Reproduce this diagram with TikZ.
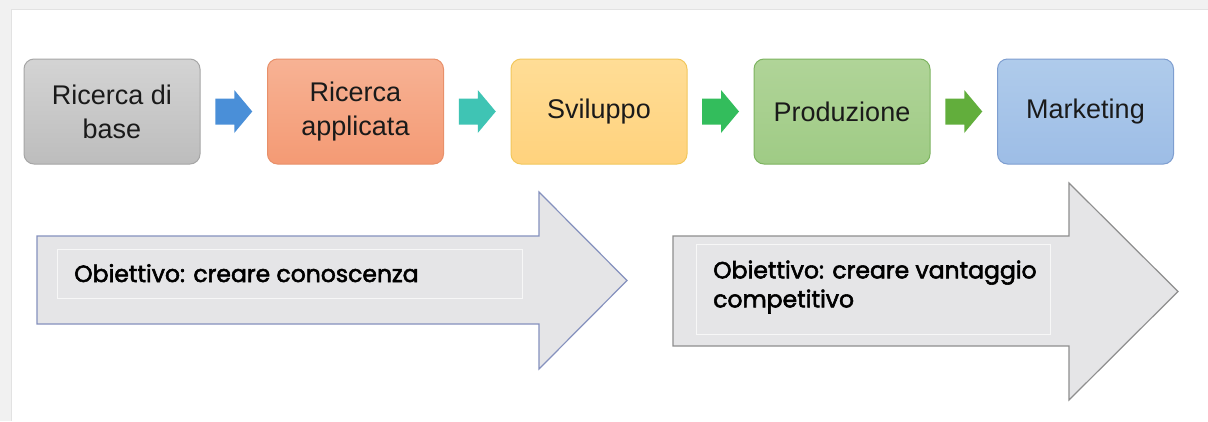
\documentclass[tikz,border=0pt]{standalone}
\usepackage{fontspec}
\setmainfont{Liberation Sans}
\newfontfamily\objfont{Poppins}[FakeBold=2.3]
\usetikzlibrary{calc}
\definecolor{framegray}{HTML}{F1F1F1}
\definecolor{frameline}{HTML}{E2E2E2}
\definecolor{txt}{HTML}{1A1A1A}
\definecolor{bigfill}{HTML}{E5E5E7}
\definecolor{bigborderL}{HTML}{8591BE}
\definecolor{bigborderR}{HTML}{8E8E8E}
\definecolor{innerline}{HTML}{F7F7F7}
\definecolor{arrblue}{RGB}{74,143,216}
\definecolor{arrteal}{RGB}{63,196,180}
\definecolor{arrgreen}{RGB}{51,189,92}
\definecolor{arrolive}{RGB}{98,174,60}
\definecolor{orD}{RGB}{232,144,106}\definecolor{orT}{RGB}{247,178,148}\definecolor{orB}{RGB}{244,154,116}
\definecolor{yeD}{RGB}{242,199,92}\definecolor{yeT}{RGB}{255,221,150}\definecolor{yeB}{RGB}{255,210,125}
\definecolor{grD}{RGB}{125,180,96}\definecolor{grT}{RGB}{176,212,152}\definecolor{grB}{RGB}{159,203,133}
\definecolor{blD}{RGB}{126,158,208}\definecolor{blT}{RGB}{175,203,235}\definecolor{blB}{RGB}{157,189,230}
\tikzset{
  stage/.style={rounded corners=10pt, line width=1pt, minimum width=176pt, minimum height=105pt,
    inner sep=0pt, align=center, text=txt, font=\fontsize{27}{34}\selectfont},
  bigarrow/.style={fill=bigfill, line width=1.2pt, line join=miter},
  innerbox/.style={draw=innerline, line width=1pt, fill=bigfill, inner sep=0pt},
  objtext/.style={font=\objfont\fontsize{23.5}{29}\selectfont, text=black, inner sep=0pt, align=left}
}
% block arrow centred on a named coordinate: shaft 19 long, 26 high; head 18 long, 43 high
\newcommand\blockarrow[2]{%
  \fill[#2] (#1) ++(-18.5,-13) -- ++(19,0) -- ++(0,-8.5) -- ++(18,21.5) -- ++(-18,21.5) -- ++(0,-8.5) -- ++(-19,0) -- cycle;}
\begin{document}
\begin{tikzpicture}[x=1pt,y=-1pt]
\useasboundingbox (0,0) rectangle (1208,421);
\fill[white] (0,0) rectangle (1208,421);
\fill[framegray] (0,0) rectangle (1208,9);
\fill[framegray] (0,9) rectangle (11,421);
\draw[frameline, line width=1pt] (11,421) -- (11,9.5) -- (1208,9.5);

% stage boxes
\node[stage, draw=black!35, top color=black!17, bottom color=black!26] (b1) at (112,111.5) {Ricerca di\\base};
\node[stage, draw=orD, top color=orT, bottom color=orB] (b2) at (355.5,111.5) {Ricerca\\applicata};
\node[stage, draw=yeD, top color=yeT, bottom color=yeB] (b3) at (599,111.5) {Sviluppo};
\node[stage, draw=grD, top color=grT, bottom color=grB] (b4) at (842,111.5) {Produzione};
\node[stage, draw=blD, top color=blT, bottom color=blB] (b5) at (1085.5,111.5) {Marketing};

% small block arrows between the stages
\coordinate (a1) at ($(b1.east)!0.5!(b2.west)$);
\coordinate (a2) at ($(b2.east)!0.5!(b3.west)$);
\coordinate (a3) at ($(b3.east)!0.5!(b4.west)$);
\coordinate (a4) at ($(b4.east)!0.5!(b5.west)$);
\blockarrow{a1}{arrblue}
\blockarrow{a2}{arrteal}
\blockarrow{a3}{arrgreen}
\blockarrow{a4}{arrolive}

% big arrows
\draw[bigarrow, draw=bigborderL] (37,236) -- (539,236) -- (539,192) -- (627,280.5) -- (539,369) -- (539,324) -- (37,324) -- cycle;
\draw[bigarrow, draw=bigborderR] (673,236) -- (1069,236) -- (1069,183) -- (1178,291.5) -- (1069,400) -- (1069,346) -- (673,346) -- cycle;

\node[innerbox, minimum width=465pt, minimum height=49pt] (i1) at (289.5,273.5) {};
\node[innerbox, minimum width=354pt, minimum height=90pt] (i2) at (873,289) {};

\node[objtext, anchor=base west] (o1) at (74,282) {Obiettivo: creare conoscenza};
\node[objtext, anchor=west] (o2) at (713,287) {Obiettivo: creare vantaggio\\competitivo};
\end{tikzpicture}
\end{document}
